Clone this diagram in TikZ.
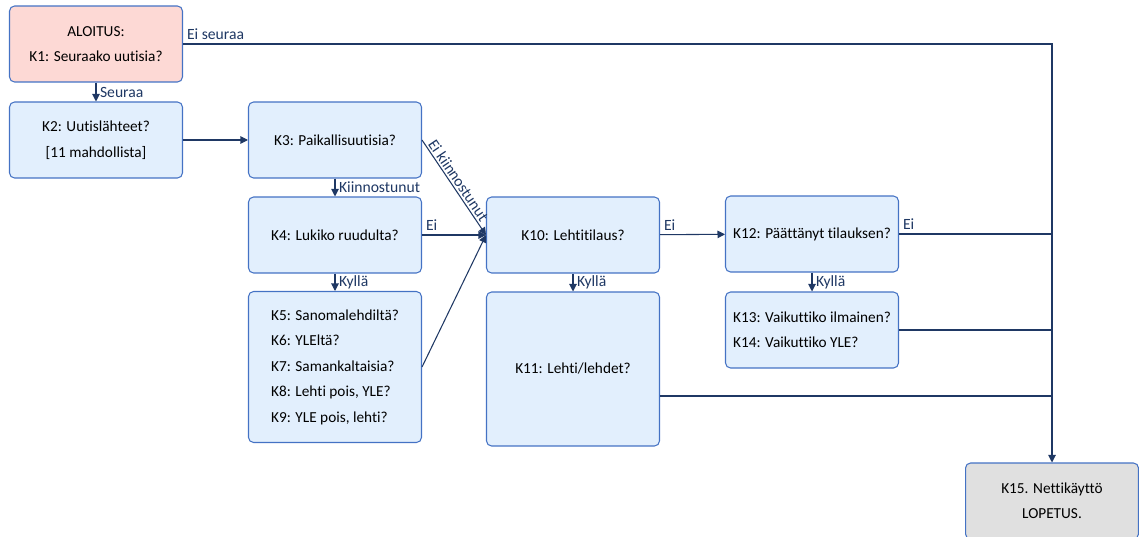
\documentclass[tikz,border=0pt]{standalone}
\usepackage{fontspec}
\setmainfont{Carlito}[Ligatures={NoCommon}]
\usetikzlibrary{arrows.meta, positioning, calc}
\definecolor{boxfill}{RGB}{226,239,253}
\definecolor{boxdraw}{RGB}{68,114,196}
\definecolor{startfill}{RGB}{253,217,213}
\definecolor{endfill}{RGB}{224,224,224}
\definecolor{linecol}{RGB}{31,56,100}

\begin{document}
\begin{tikzpicture}[
    x=0.02cm, y=-0.02cm,
    box/.style={draw=boxdraw, fill=boxfill, rounded corners=0.1cm, line width=0.6pt, minimum width=3.46cm, minimum height=1.52cm, align=center, font=\fontsize{8.7}{14.5}\selectfont},
    startbox/.style={box, fill=startfill},
    endbox/.style={box, fill=endfill},
    arrow/.style={-{Triangle[length=1.5mm, width=1.5mm]}, line width=0.6pt, draw=linecol},
    link/.style={line width=0.6pt, draw=linecol},
    lbl/.style={font=\fontsize{8.9}{9}\selectfont, text=linecol, inner sep=2pt}
]
\useasboundingbox (0,0) rectangle (1139,537);

% Boxes
\node[startbox] (k1) at (96,44) {ALOITUS:\\K1: Seuraako uutisia?};
\node[box] (k2) at (96,140) {K2: Uutislähteet?\\{}[11 mahdollista]};
\node[box] (k3) at (335,140) {K3: Paikallisuutisia?};
\node[box] (k4) at (335,235) {K4: Lukiko ruudulta?};
\node[box, minimum height=3.02cm, align=left] (k5) at (335,367) {K5: Sanomalehdiltä?\\K6: YLEltä?\\K7: Samankaltaisia?\\K8: Lehti pois, YLE?\\K9: YLE pois, lehti?};
\node[box] (k10) at (573,235) {K10: Lehtitilaus?};
\node[box, minimum height=3.08cm] (k11) at (573,369) {K11: Lehti/lehdet?};
\node[box] (k12) at (812,234) {K12: Päättänyt tilauksen?};
\node[box, align=left] (k13) at (812,330) {K13: Vaikuttiko ilmainen?\\K14: Vaikuttiko YLE?};
\node[endbox] (k15) at (1052,501) {K15. Nettikäyttö\\LOPETUS.};

% Connectors
\draw[arrow] (k1.east) -| node[lbl, pos=0, above right] {Ei seuraa} (k15.north);
\draw[arrow] (k1) -- node[lbl, right] {Seuraa} (k2);
\draw[arrow] (k2) -- (k3);
\draw[arrow] (k3) -- node[lbl, right] {Kiinnostunut} (k4);
\draw[arrow] (k3.east) -- node[lbl, sloped, above, pos=0.47, inner sep=1pt] {Ei kiinnostunut} (k10.west);
\draw[arrow] (k4) -- node[lbl, pos=0, above right] {Ei} (k10);
\draw[arrow] (k4) -- node[lbl, right] {Kyllä} (k5);
\draw[arrow] (k5.east) -- (k10.west);
\draw[arrow] (k10) -- node[lbl, right] {Kyllä} (k11);
\draw[arrow] (k10) -- node[lbl, pos=0, above right] {Ei} (k12);
\draw[arrow] (k12) -- node[lbl, right] {Kyllä} (k13);
\draw[link] (k12.east) -- node[lbl, pos=0, above right] {Ei} (k12.east -| k15.north);
\draw[link] (k13.east) -- (k13.east -| k15.north);
\draw[link] ([yshift=-0.54cm]k11.east) -- ([yshift=-0.54cm]k11.east -| k15.north);

\end{tikzpicture}
\end{document}
